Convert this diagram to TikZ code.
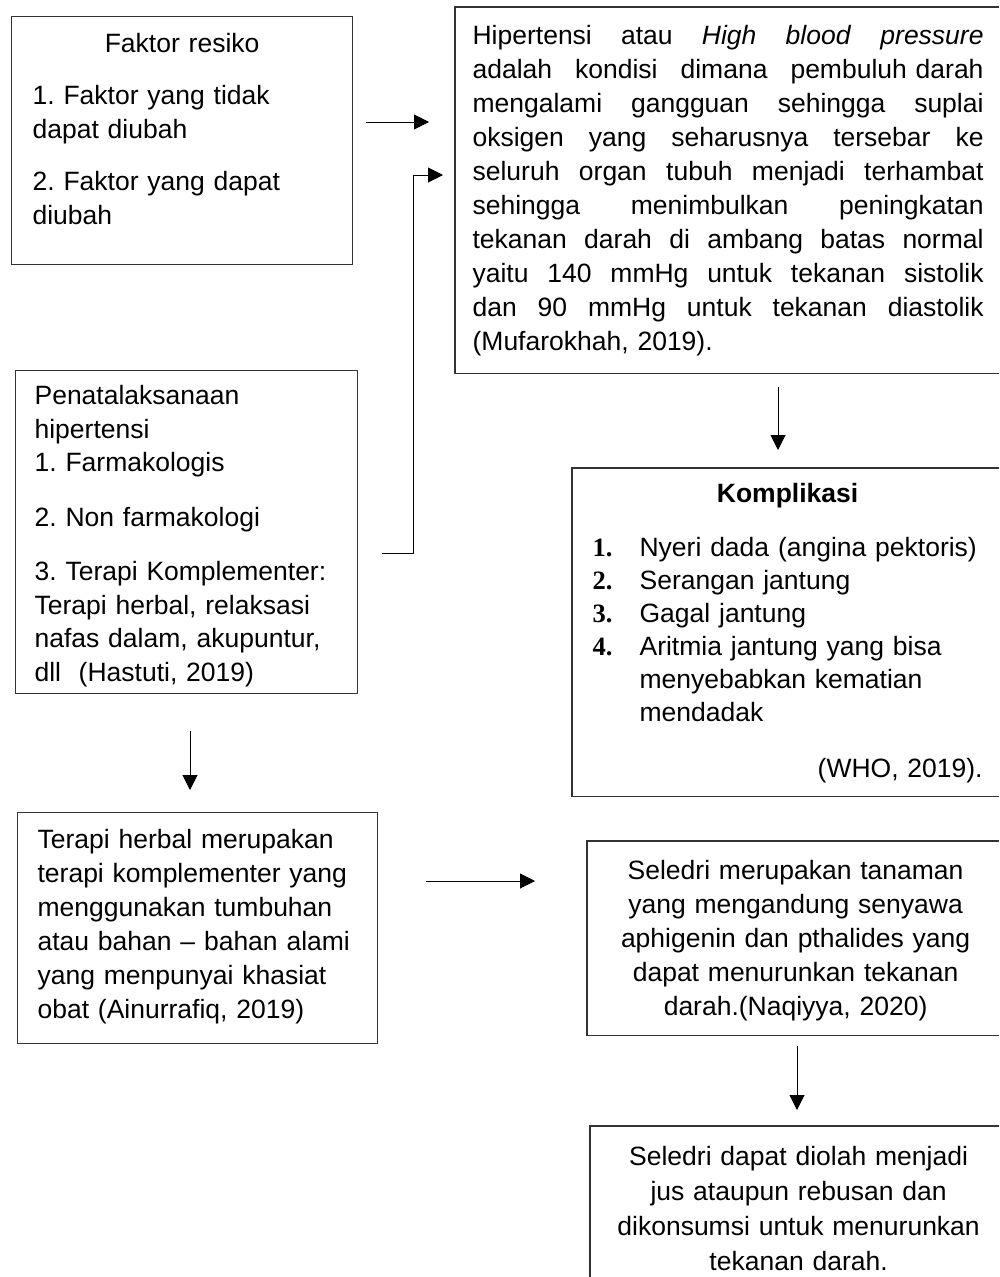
\documentclass[tikz,border=0pt]{standalone}
\usepackage{fontspec}
\setmainfont{Liberation Sans}
\newfontfamily\numfont{Liberation Serif}
\usetikzlibrary{arrows.meta,calc}
\frenchspacing
\tikzset{
  box/.style={draw=black!80, line width=1.2pt, anchor=north west, align=left,
    font=\fontsize{26.5}{34}\selectfont, text height=19pt},
  openbox/.style={box, draw=none},
  frame/.style={draw=black!80, line width=1.2pt},
  arr/.style={-{Triangle[length=15pt,width=15pt]}, line width=1pt},
}
\newcommand{\jline}[1]{\makebox[511pt]{#1}}

\begin{document}
\begin{tikzpicture}[x=1pt,y=1pt]
  \useasboundingbox (0,0) rectangle (999,-1277);
  \coordinate (edge) at (999,0);

  % Faktor resiko
  \node[box, inner xsep=21pt, inner ysep=17pt, text width=299pt, text depth=195pt] (faktor) at (11,-16)
    {\makebox[\linewidth]{Faktor resiko}\\[18pt]
     1. Faktor yang tidak\\ dapat diubah\\[18pt]
     2. Faktor yang dapat\\ diubah};

  % Hipertensi (cut off at the right)
  \node[openbox, inner xsep=17pt, inner ysep=18pt, text width=511pt, text depth=310pt] (hiper) at (455,-7)
    {\jline{Hipertensi\hfill atau\hfill \textit{High}\hfill \textit{blood}\hfill \textit{pressure}}\\
     \jline{adalah\hfill kondisi\hfill dimana\hfill pembuluh darah}\\
     \jline{mengalami\hfill gangguan\hfill sehingga\hfill suplai}\\
     \jline{oksigen\hfill yang\hfill seharusnya\hfill tersebar\hfill ke}\\
     \jline{seluruh\hfill organ\hfill tubuh\hfill menjadi\hfill terhambat}\\
     \jline{sehingga\hfill menimbulkan\hfill peningkatan}\\
     \jline{tekanan\hfill darah\hfill di\hfill ambang\hfill batas\hfill normal}\\
     \jline{yaitu\hfill 140\hfill mmHg\hfill untuk\hfill tekanan\hfill sistolik}\\
     \jline{dan\hfill 90\hfill mmHg\hfill untuk\hfill tekanan\hfill diastolik}\\
     (Mufarokhah, 2019).};
  \draw[frame] (hiper.north -| edge) -- (hiper.north west) -- (hiper.south west) -- (hiper.south -| edge);

  % Penatalaksanaan
  \node[box, font=\fontsize{26.5}{33.5}\selectfont, inner xsep=19pt, inner ysep=15pt, text width=304pt, text depth=274pt] (penata) at (15,-370)
    {Penatalaksanaan\\ hipertensi\\ 1. Farmakologis\\[21pt]
     2. Non farmakologi\\[21pt]
     3. Terapi Komplementer:\\ Terapi herbal, relaksasi\\ nafas dalam, akupuntur,\\ dll\ \ (Hastuti, 2019)};

  % Komplikasi (cut off at the right)
  \node[openbox, font=\fontsize{26.5}{33}\selectfont, inner xsep=20pt, inner ysep=15pt, text width=390pt, text depth=278pt] (kompl) at (572,-468)
    {\makebox[\linewidth]{\bfseries Komplikasi}\\[21pt]
     \makebox[47pt][l]{\numfont\bfseries 1.}Nyeri dada (angina pektoris)\\
     \makebox[47pt][l]{\numfont\bfseries 2.}Serangan jantung\\
     \makebox[47pt][l]{\numfont\bfseries 3.}Gagal jantung\\
     \makebox[47pt][l]{\numfont\bfseries 4.}Aritmia jantung yang bisa\\
     \hspace*{47pt}menyebabkan kematian\\
     \hspace*{47pt}mendadak\\[23pt]
     \hspace*{\fill}(WHO, 2019).};
  \draw[frame] (kompl.north -| edge) -- (kompl.north west) -- (kompl.south west) -- (kompl.south -| edge);

  % Terapi herbal
  \node[box, inner xsep=20pt, inner ysep=17pt, text width=320pt, text depth=178pt] (herbal) at (17,-812)
    {Terapi herbal merupakan\\ terapi komplementer yang\\ menggunakan tumbuhan\\
     atau bahan – bahan alami\\ yang menpunyai khasiat\\ obat (Ainurrafiq, 2019)};

  % Seledri (cut off at the right)
  \node[openbox, align=center, inner xsep=20pt, inner ysep=19pt, text width=376pt, text depth=136pt] (seledri) at (587,-841)
    {Seledri merupakan tanaman\\ yang mengandung senyawa\\ aphigenin dan pthalides yang\\
     dapat menurunkan tekanan\\ darah.(Naqiyya, 2020)};
  \draw[frame] (seledri.north -| edge) -- (seledri.north west) -- (seledri.south west) -- (seledri.south -| edge);
  \node[openbox, align=center, font=\fontsize{26.5}{35}\selectfont, inner xsep=20pt, inner ysep=20pt, text width=376pt, text depth=200pt] (olah) at (590,-1126)
    {Seledri dapat diolah menjadi\\ jus ataupun rebusan dan\\ dikonsumsi untuk menurunkan\\ tekanan darah.};
  \draw[frame] (olah.north -| edge) -- (olah.north west) -- (olah.south west);

  % connectors
  \coordinate (rowA) at (0,-122);
  \coordinate (rowB) at (0,-553);
  \coordinate (rowC) at (0,-175);
  \coordinate (rowD) at (0,-881);
  \coordinate (colA) at (778,0);
  \coordinate (colB) at (190,0);
  \coordinate (colC) at (797,0);
  \draw[arr, shorten <=13pt, shorten >=26pt] (faktor.east |- rowA) -- (hiper.west |- rowA);
  \draw[arr, shorten >=12pt] (penata.east |- rowB) ++(24,0) -- ++(31,0) |- (hiper.west |- rowC);
  \draw[arr, shorten <=14pt, shorten >=18pt] (hiper.south -| colA) -- (kompl.north -| colA);
  \draw[arr, shorten <=37pt, shorten >=22pt] (penata.south -| colB) -- (herbal.north -| colB);
  \draw[arr, shorten <=48pt, shorten >=52pt] (herbal.east |- rowD) -- (seledri.west |- rowD);
  \draw[arr, shorten <=11pt, shorten >=16pt] (seledri.south -| colC) -- (olah.north -| colC);
\end{tikzpicture}
\end{document}
